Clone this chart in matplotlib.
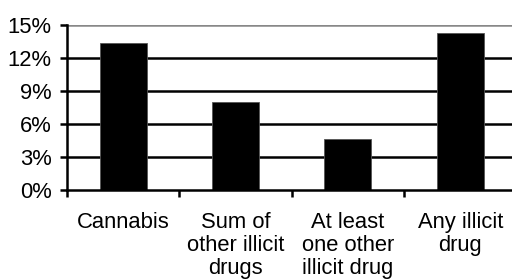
import numpy as np
from matplotlib import pyplot as plt

categories = ["Cannabis", "Sum of\nother illicit\ndrugs", "At least\none other\nillicit drug", "Any illicit\ndrug"]
values = [13.4, 8.0, 4.6, 14.3]
y_ticks = [0, 3, 6, 9, 12, 15]
y_labels = ["0%", "3%", "6%", "9%", "12%", "15%"]


def main():
    plt.rcParams['font.family'] = ['Liberation Sans', 'DejaVu Sans']

    fig = plt.figure(figsize=(5.12, 2.79), dpi=100)
    ax = fig.add_axes([67 / 512, 89 / 279, 449.4 / 512, 165 / 279])

    x = np.arange(len(categories))
    ax.bar(x, values, width=0.42, color='black', edgecolor='#555555', linewidth=0.6, zorder=3)

    ax.set_xlim(-0.5, len(categories) - 0.5)
    ax.set_ylim(0, 15)

    ax.set_yticks(y_ticks, y_labels)
    ax.set_xticks(x, categories)
    ax.set_xticks(np.arange(len(categories) + 1) - 0.5, minor=True)

    for v in y_ticks[1:-1]:
        ax.axhline(v, color='black', linewidth=1.8, zorder=1)
    ax.axhline(15, color='#888888', linewidth=1.8, zorder=1)

    for side in ['top', 'right']:
        ax.spines[side].set_visible(False)
    for side in ['left', 'bottom']:
        ax.spines[side].set_linewidth(1.8)
        ax.spines[side].set_color('black')
        ax.spines[side].set_zorder(4)

    ax.tick_params(axis='y', length=5, width=1.8, pad=6, labelsize=15.8)
    ax.tick_params(axis='x', which='major', length=0, pad=15.5, labelsize=15.8)
    ax.tick_params(axis='x', which='minor', length=5, width=1.8)
    for lbl in ax.get_xticklabels():
        lbl.set_linespacing(1.15)

    fig.savefig('out.png', dpi=100)


if __name__ == '__main__':
    main()
